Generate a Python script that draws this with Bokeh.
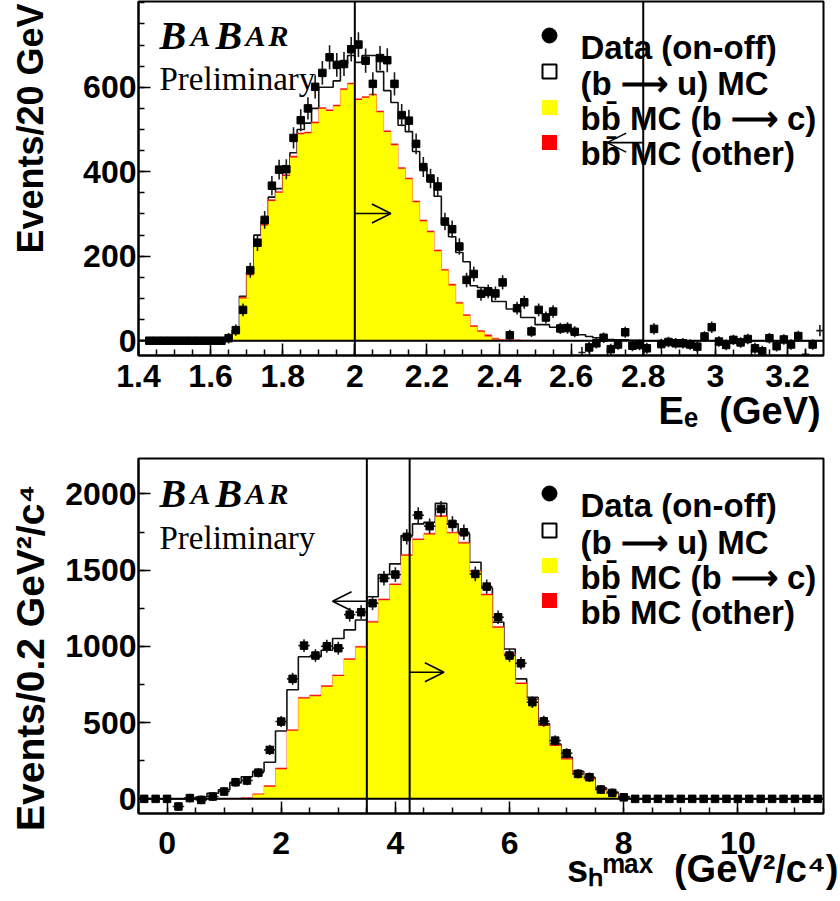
import numpy as np
from bokeh.plotting import figure
from bokeh.models import (Range1d, Span, Label, Arrow, OpenHead, FixedTicker,
                          SingleIntervalTicker, CustomJSTickFormatter)
from bokeh.layouts import column
from bokeh.embed import file_html
from bokeh.resources import INLINE

# ---------------------------------------------------------------- top panel : E_e
ee_first_center = 1.43
ee_bin_width = 0.02
ee_data = [0, 0, 0, 0, 0, 0, 0, 0, 0, 0, 0,                 # 1.43 - 1.63
           6, 25, 73, 167, 232, 286, 367, 405, 406, 480,        # 1.65 - 1.83
           522, 550, 601, 634, 671, 653, 655, 690, 701, 663,    # 1.85 - 2.03
           608, 669, 664, 608, 534, 521, 466, 411, 384, 365,    # 2.05 - 2.23
           282, 264, 223, 144, 158, 111, 117, 112, 138, 13,     # 2.25 - 2.43
           77, 91, 22, 73, 55, 69, 29, 30, 21, -28,             # 2.45 - 2.63
           -16, -6, 7, -20, -9, 20, -12, -10, -18, 28,          # 2.65 - 2.83
           -8, -3, -6, -6, -9, -14, 10, 32, -2, -10,            # 2.85 - 3.03
           2, -4, 4, -18, -25, 6, -13, 3, -9, 11,               # 3.05 - 3.23
           -32, -9, 24]                                         # 3.25 - 3.29
ee_mc_start = 1.65            # first bin centre of the MC lists below
ee_mc_bc = [0, 18, 100, 155, 225, 273, 331, 350, 390, 434,
            489, 491, 515, 549, 544, 555, 594, 607, 570, 575,
            581, 541, 494, 463, 407, 382, 328, 283, 257, 212,
            166, 131, 88, 59, 33, 21, 10, 3, 0, 0]
ee_mc_other = [0, 2, 3, 3, 3, 3, 3, 3, 3, 3,
               3, 3, 3, 3, 3, 3, 3, 3, 3, 3,
               3, 3, 3, 3, 3, 3, 3, 3, 3, 3,
               3, 3, 3, 3, 3, 3, 4, 3, 3, 2,
               2, 1, 1]
ee_mc_total = [5, 25, 105, 162, 250, 282, 340, 360, 414, 445,
               500, 515, 550, 600, 600, 615, 655, 675, 659, 675,
               675, 637, 592, 564, 510, 495, 448, 410, 379, 342,
               276, 246, 209, 187, 130, 126, 107, 93, 93, 75,
               71, 55, 55, 38, 38, 32, 30, 24, 16, 14,
               10, 7, 4, 3, 2, 2, 1, 1]
ee_cuts = [2.0, 2.8]
ee_arrow_y = [301, 469]
ee_arrow_dir = [1, -1]
ee_yticks = [0, 200, 400, 600]

# ---------------------------------------------------------------- bottom panel : s_h^max
sh_first_center = -0.4
sh_bin_width = 0.2
sh_data = [0, 0, 0, -50, 5, -7, 15, 48, 109, 120,                      # -0.4 - 1.4
           172, 321, 507, 787, 1005, 940, 1001, 988, 1208, 1224,        # 1.6 - 3.4
           1283, 1447, 1471, 1718, 1860, 1788, 1901, 1803, 1748, 1475,  # 3.6 - 5.4
           1392, 1191, 940, 889, 634, 509, 382, 299, 164, 142,          # 5.6 - 7.4
           61, 39, 10,                                                  # 7.6 - 8.0
           0, 0, 0, 0, 0, 0, 0, 0, 0, 0, 0, 0, 0, 0, 0, 0, 0]           # 8.2 - 11.4
sh_mc_start = 0.6
sh_mc_bc = [0, 0, 0, 0, 3, 28, 80, 195, 446, 658,
            673, 735, 805, 912, 993, 1157, 1303, 1402, 1595, 1697,
            1734, 1850, 1741, 1675, 1489, 1336, 1122, 947, 753, 648,
            477, 346, 258, 166, 127, 60, 33, 7]
sh_mc_other = [0, 0, 0, 2, 5, 5, 7, 8, 8, 8,
               8, 8, 8, 8, 8, 8, 8, 8, 8, 8,
               8, 8, 8, 8, 8, 8, 8, 8, 8, 8,
               8, 8, 8, 8, 8, 6, 5, 3]
sh_mc_total = [12, 37, 60, 105, 145, 180, 240, 445, 716, 932,
               932, 975, 1052, 1108, 1173, 1325, 1471, 1541, 1727, 1803,
               1814, 1938, 1803, 1738, 1552, 1383, 1158, 983, 787, 666,
               492, 360, 272, 181, 139, 72, 45, 15]
sh_cuts = [3.5, 4.25]
sh_arrow_y = [1296, 830]
sh_arrow_dir = [-1, 1]

legend_texts = ["Data (on-off)", "(b \u27f6 u) MC", "bb\u0304 MC (b \u27f6 c)", "bb\u0304 MC (other)"]
legend_colors = ["black", "white", "#ffff00", "#ff0000"]

NBSP = "\u00a0"
ee_xtitle = "E\u2091" + NBSP * 2 + "(GeV)"
sh_xtitle = "s\u2095\u1d50\u1d43\u02e3" + NBSP * 2 + "(GeV\u00b2/c\u2074)"
ee_ytitle = "Events/20 GeV"
sh_ytitle = "Events/0.2 GeV\u00b2/c\u2074"

SANS = "Liberation Sans"
SERIF = "Liberation Serif"
LEFT_PX, RIGHT_PX, FIG_W = 138, 823, 840


def padded(first_center, width, values, grid_first, n):
    out = np.zeros(n)
    i0 = int(round((first_center - grid_first) / width))
    out[i0:i0 + len(values)] = values
    return out


def step_xy(lefts, width, vals):
    xs, ys = [lefts[0]], [0.0]
    for l, v in zip(lefts, vals):
        xs += [l, l + width]
        ys += [v, v]
    xs.append(lefts[-1] + width)
    ys.append(0.0)
    return xs, ys


def build_panel(cfg):
    x0, x1 = cfg["xr"]
    y0, y1 = cfg["yr"]
    fh, bt, fr_h, page_top = cfg["fig_h"], cfg["border_top"], cfg["frame_h"], cfg["page_top"]
    p = figure(width=FIG_W, height=fh, output_backend="svg", toolbar_location=None,
               x_range=Range1d(x0, x1), y_range=Range1d(y0, y1), title=None,
               min_border_left=LEFT_PX, min_border_right=FIG_W - RIGHT_PX,
               min_border_top=bt, min_border_bottom=fh - bt - fr_h)
    p.xgrid.visible = False
    p.ygrid.visible = False
    p.outline_line_color = "black"
    p.outline_line_width = 2
    p.background_fill_color = "white"
    p.border_fill_color = "white"

    def cx(px):
        return x0 + (px - LEFT_PX) * (x1 - x0) / (RIGHT_PX - LEFT_PX)

    def cy(py):
        return y1 - (py - page_top - bt) * (y1 - y0) / fr_h

    for ax in p.axis:
        ax.axis_line_width = 2
        ax.major_tick_in = 12
        ax.major_tick_out = 0
        ax.minor_tick_in = 6
        ax.minor_tick_out = 0
        ax.major_tick_line_width = 1.5
        ax.minor_tick_line_width = 1.5
        ax.major_label_text_font = SANS
        ax.major_label_text_font_style = "bold"
        ax.major_label_text_font_size = "32px"
        ax.major_label_text_color = "black"
        ax.axis_label_text_font = SANS
        ax.axis_label_text_font_style = "bold"
        ax.axis_label_text_color = "black"
        ax.axis_label_align = "center"
    p.xaxis.ticker = cfg["xticker"]
    p.yaxis.ticker = cfg["yticker"]
    if cfg.get("xformatter") is not None:
        p.xaxis.formatter = cfg["xformatter"]
    p.yaxis.major_label_standoff = 2
    p.xaxis.major_label_standoff = cfg["xstand"]

    # axis titles: centred labels, shifted along the axis with no-break-space padding
    p.yaxis.axis_label = NBSP * cfg["ytitle_lead"] + cfg["ytitle"] + NBSP * cfg["ytitle_trail"]
    p.yaxis.axis_label_text_font_size = cfg["ytitle_size"]
    p.yaxis.axis_label_standoff = cfg["ytitle_standoff"]
    p.xaxis.axis_label = NBSP * cfg["xtitle_lead"] + cfg["xtitle"]
    p.xaxis.axis_label_text_font_size = "38px"
    p.xaxis.axis_label_standoff = cfg["xtitle_standoff"]

    w = cfg["width"]
    data = np.array(cfg["data"], dtype=float)
    n = len(data)
    centers = cfg["first"] + w * np.arange(n)
    lefts = centers - w / 2
    bc = padded(cfg["mc_start"], w, cfg["bc"], cfg["first"], n)
    other = padded(cfg["mc_start"], w, cfg["other"], cfg["first"], n)
    total = padded(cfg["mc_start"], w, cfg["total"], cfg["first"], n)

    # MC stack: total outline, then (b->c + other) in red, then b->c in yellow
    xs, ys = step_xy(lefts, w, total)
    p.line(xs, ys, line_color="#111111", line_width=1.6)
    xs, ys = step_xy(lefts, w, bc + other)
    p.patch(xs, ys, fill_color="#ff0000", line_color="#ff4040", line_width=1, line_alpha=0.6)
    xs, ys = step_xy(lefts, w, bc)
    p.patch(xs, ys, fill_color="#ffff00", line_color=None)

    # data with errors
    err = np.where(data != 0, np.sqrt(np.abs(data) + cfg["err_floor"]), 0.0)
    has = err > 0
    p.segment(x0=centers[has], y0=(data - err)[has], x1=centers[has], y1=(data + err)[has],
              line_color="#1a1a1a", line_width=1.6)
    p.segment(x0=(centers - w / 2)[has], y0=data[has], x1=(centers + w / 2)[has], y1=data[has],
              line_color="#1a1a1a", line_width=1.6)
    half_x = 3.8 * (x1 - x0) / (RIGHT_PX - LEFT_PX)
    half_y = 3.8 * (y1 - y0) / fr_h
    vis = (data - half_y >= y0) & (centers + half_x < x1)
    p.scatter(centers[vis], data[vis], marker="square", size=7.5,
              fill_color="black", line_color="black")

    # cut lines and arrows
    p.add_layout(Span(location=0, dimension="width", line_color="black", line_width=2))
    for c, ay, d in zip(cfg["cuts"], cfg["arrow_y"], cfg["arrow_dir"]):
        p.add_layout(Span(location=c, dimension="height", line_color="black", line_width=2))
        p.add_layout(Arrow(end=OpenHead(size=19, line_width=1.6, line_color="black"),
                           x_start=c, y_start=ay, x_end=c + d * cfg["arrow_len"], y_end=ay,
                           line_width=1.6, line_color="black"))

    # legend
    mk_y, base_y = cfg["legend_marker_y"], cfg["legend_base_y"]
    p.scatter([cx(549)], [cy(mk_y[0])], marker="circle", size=15, fill_color="black", line_color="black")
    p.scatter([cx(549)], [cy(mk_y[1])], marker="square", size=14, fill_color="white",
              line_color="black", line_width=2)
    p.scatter([cx(549)], [cy(mk_y[2])], marker="square", size=15, fill_color=legend_colors[2], line_color=None)
    p.scatter([cx(549)], [cy(mk_y[3])], marker="square", size=15, fill_color=legend_colors[3], line_color=None)
    for t, b in zip(legend_texts, base_y):
        p.add_layout(Label(x=cx(580), y=cy(b), text=t, text_font=SANS, text_font_style="bold",
                           text_font_size="33px", text_baseline="alphabetic", text_align="left",
                           text_color="black"))

    # BABAR logo + Preliminary
    lb = cfg["logo_base"]
    for letter, px, size in [("B", 159, "40px"), ("A", 190, "30px"), ("B", 215, "40px"),
                             ("A", 245, "30px"), ("R", 268, "30px")]:
        p.add_layout(Label(x=cx(px), y=cy(lb), text=letter, text_font=SERIF,
                           text_font_style="bold italic", text_font_size=size,
                           text_baseline="alphabetic", text_align="left", text_color="black"))
    p.add_layout(Label(x=cx(159), y=cy(cfg["prelim_base"]), text="Preliminary", text_font=SERIF,
                       text_font_size="33px", text_baseline="alphabetic", text_align="left",
                       text_color="black"))
    return p


top_cfg = dict(
    xr=(1.4, 3.3), yr=(-35, 803), fig_h=440, border_top=1, frame_h=354, page_top=0,
    xticker=SingleIntervalTicker(interval=0.2, num_minor_ticks=4),
    yticker=FixedTicker(ticks=ee_yticks, minor_ticks=list(range(-50, 801, 50))),
    xformatter=CustomJSTickFormatter(code="return String(Math.round(tick*10)/10);"),
    xstand=9, width=ee_bin_width, first=ee_first_center, data=ee_data,
    mc_start=ee_mc_start, bc=ee_mc_bc, other=ee_mc_other, total=ee_mc_total, err_floor=150,
    cuts=ee_cuts, arrow_y=ee_arrow_y, arrow_dir=ee_arrow_dir, arrow_len=0.1,
    legend_marker_y=[35, 71, 107, 142], legend_base_y=[47, 83, 118, 153],
    logo_base=35, prelim_base=78,
    ytitle=ee_ytitle, ytitle_size="36px", ytitle_standoff=29, ytitle_lead=10, ytitle_trail=0,
    xtitle=ee_xtitle, xtitle_standoff=0, xtitle_lead=49,
)

bot_cfg = dict(
    xr=(-0.5, 11.5), yr=(-96, 2232), fig_h=461, border_top=18, frame_h=355, page_top=440,
    xticker=SingleIntervalTicker(interval=2, num_minor_ticks=4),
    yticker=SingleIntervalTicker(interval=500, num_minor_ticks=2),
    xformatter=None, xstand=18, width=sh_bin_width, first=sh_first_center, data=sh_data,
    mc_start=sh_mc_start, bc=sh_mc_bc, other=sh_mc_other, total=sh_mc_total, err_floor=800,
    cuts=sh_cuts, arrow_y=sh_arrow_y, arrow_dir=sh_arrow_dir, arrow_len=0.6,
    legend_marker_y=[493, 530, 565, 600], legend_base_y=[505, 542, 577, 612],
    logo_base=493, prelim_base=537,
    ytitle=sh_ytitle, ytitle_size="39px", ytitle_standoff=10, ytitle_lead=0, ytitle_trail=4,
    xtitle=sh_xtitle, xtitle_standoff=-9, xtitle_lead=42,
)

p1 = build_panel(top_cfg)
p2 = build_panel(bot_cfg)
root = column(p1, p2, spacing=0)

open("out.html", "w").write(file_html(root, INLINE, title="BaBar b->u plots"))
